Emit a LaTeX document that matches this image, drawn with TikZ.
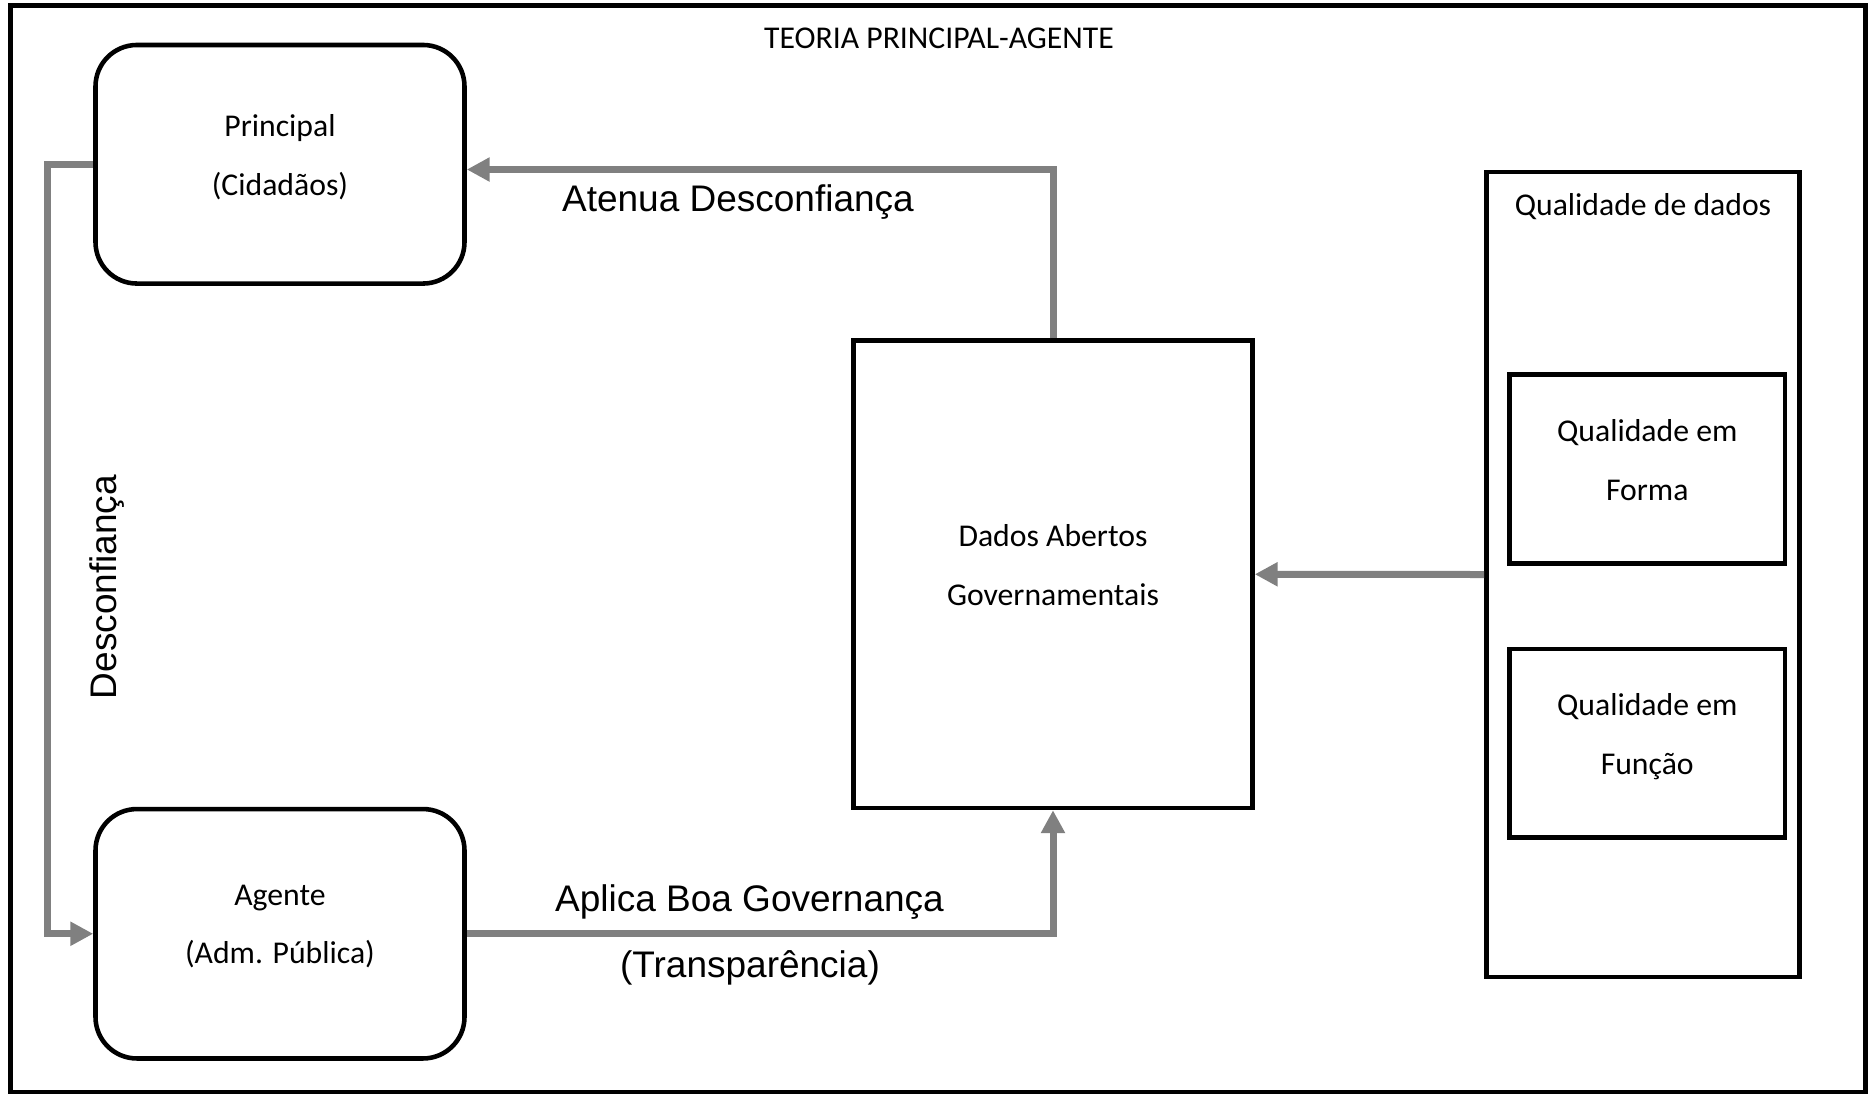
\documentclass[tikz,border=0pt]{standalone}
\usepackage{fontspec}
\setmainfont{Carlito}
\newfontfamily\arialfont{Liberation Sans}
\usepackage{tikz}
\usetikzlibrary{arrows.meta}
\usetikzlibrary{calc}
\usetikzlibrary{positioning}
\definecolor{linegray}{RGB}{128,128,128}

\begin{document}
\begin{tikzpicture}[x=0.35pt, y=-0.35pt,
    rbox/.style={draw=black, line width=1.6pt, rounded corners=14.5pt, align=center, text depth=6.5pt, font=\fontsize{11.1}{20.5}\selectfont},
    sbox/.style={draw=black, line width=1.6pt, align=center, text depth=6.5pt, font=\fontsize{11.1}{20.5}\selectfont},
    conn/.style={draw=linegray, line width=2.45pt, -{Triangle[length=8pt,width=8pt]}},
    lbl/.style={font=\arialfont\fontsize{12.95}{15}\selectfont}]
    \useasboundingbox (0,0) rectangle (1870,1094);
    \draw[line width=1.6pt] (10.5,5.5) rectangle (1865.5,1092);
    \node[anchor=base, font=\fontsize{11.1}{13}\selectfont] (titulo) at (939,48) {TEORIA PRINCIPAL-AGENTE};

    \node[rbox, minimum width=129.15pt, minimum height=83.5pt] (principal) at (280,164.25) {Principal\\(Cidadãos)};
    \node[rbox, minimum width=129.15pt, minimum height=87.3pt] (agente) at (280,933.75) {Agente\\(Adm. Pública)};
    \node[sbox, minimum width=139.65pt, minimum height=163.6pt] (dados) at (1053,574.25) {Dados Abertos\\Governamentais};
    \node[sbox, minimum width=109.55pt, minimum height=281.75pt] (qdados) at (1643,574.5) {};
    \node[anchor=base, font=\fontsize{11.1}{13}\selectfont] (qdtitulo) at (1643,215) {Qualidade de dados};
    \node[sbox, minimum width=96.4pt, minimum height=66.15pt] (forma) at (1647.25,469) {Qualidade em\\Forma};
    \node[sbox, minimum width=96.4pt, minimum height=66pt] (funcao) at (1647.25,743.25) {Qualidade em\\Função};

    \node[lbl, anchor=base] (atenua) at (738,211) {Atenua Desconfiança};
    \node[lbl, anchor=base] (aplica) at (749.5,911) {Aplica Boa Governança};
    \node[lbl, anchor=base] (transp) at (750,977) {(Transparência)};
    \node[lbl, rotate=90] (desconf) at (107,587) {Desconfiança};

    \coordinate (bendL) at (47,0);
    \coordinate (topturn) at (1053,169.5);
    \draw[conn] (principal.west) -- (principal.west -| bendL) |- (agente.west);
    \draw[conn] (dados.north) -- (topturn) -- (topturn -| principal.east);
    \draw[conn] (agente.east) -| (dados.south);
    \draw[conn] (qdados.west) -- (dados.east);
\end{tikzpicture}
\end{document}
